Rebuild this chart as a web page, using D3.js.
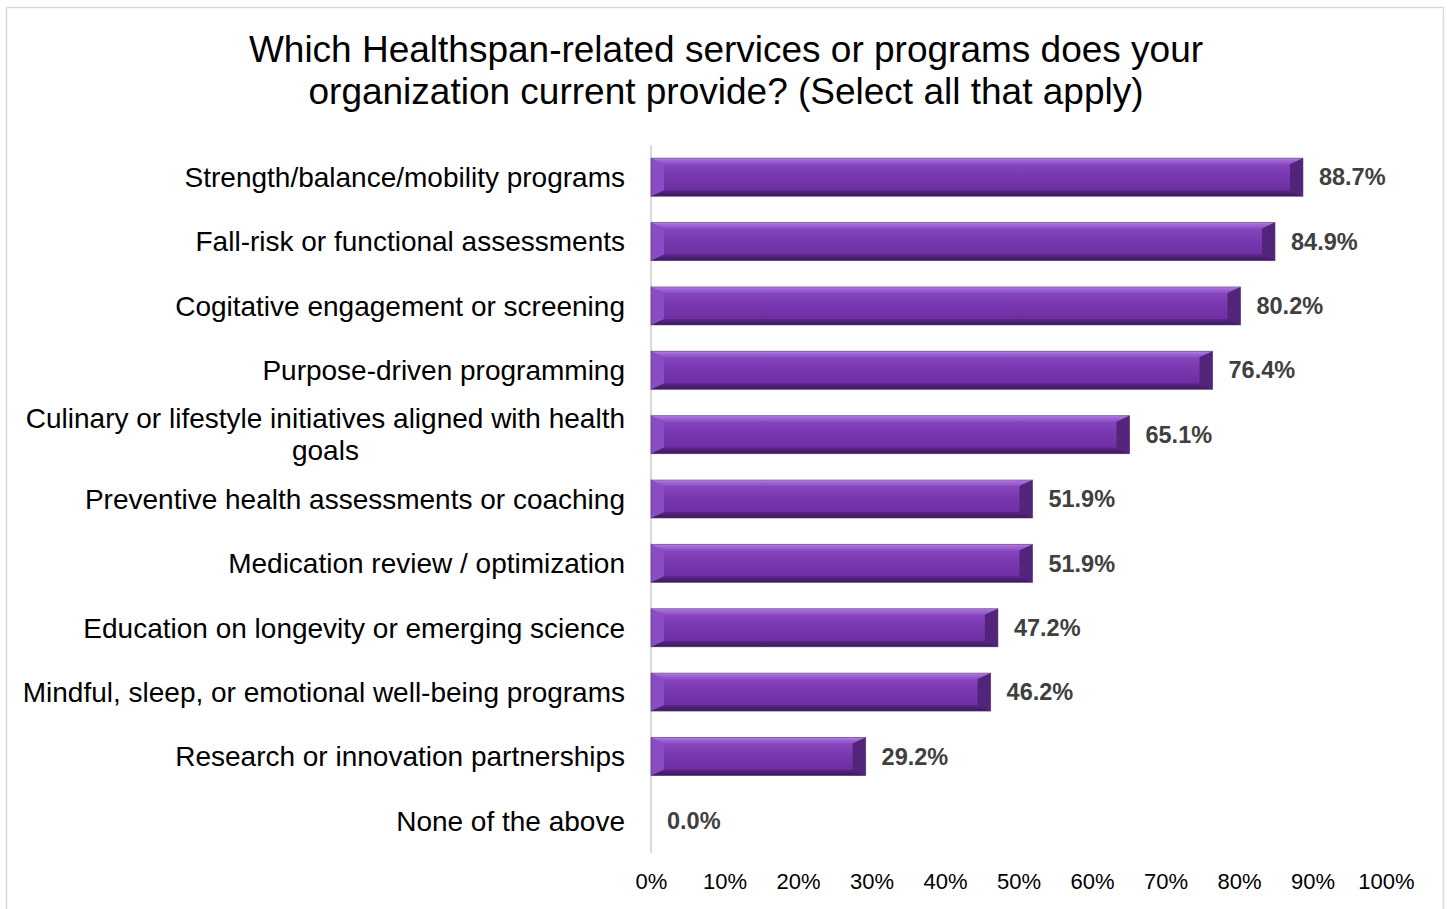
<!DOCTYPE html>
<html>
<head>
<meta charset="utf-8">
<script src="https://cdn.jsdelivr.net/npm/d3@7"></script>
<style>
  html, body { margin: 0; padding: 0; background: #ffffff; }
  svg { display: block; font-family: Arial, "Liberation Sans", sans-serif; }
</style>
</head>
<body>
<svg id="chart" width="1449" height="909"></svg>
<script>
// Survey responses, share of organizations offering each service
const categories = [
  "Strength/balance/mobility programs",
  "Fall-risk or functional assessments",
  "Cogitative engagement or screening",
  "Purpose-driven programming",
  "Culinary or lifestyle initiatives aligned with health goals",
  "Preventive health assessments or coaching",
  "Medication review / optimization",
  "Education on longevity or emerging science",
  "Mindful, sleep, or emotional well-being programs",
  "Research or innovation partnerships",
  "None of the above"
];
const values = [88.7, 84.9, 80.2, 76.4, 65.1, 51.9, 51.9, 47.2, 46.2, 29.2, 0.0];
const tickValues = [0, 10, 20, 30, 40, 50, 60, 70, 80, 90, 100];
const titleLines = [
  "Which Healthspan-related services or programs does your",
  "organization current provide? (Select all that apply)"
];

const svg = d3.select("#chart");
const W = 1449, H = 909;
const margin = { left: 651, right: 63, top: 145, bottom: 56 };

// outer chart frame
svg.append("rect")
  .attr("x", 6.5).attr("y", 7.5)
  .attr("width", 1437).attr("height", 910)
  .attr("fill", "#fff").attr("stroke", "#d9d9d9").attr("stroke-width", 1.5);

// title
svg.append("g").selectAll("text").data(titleLines).join("text")
  .attr("x", 726).attr("y", (d, i) => 62 + i * 42)
  .attr("text-anchor", "middle")
  .attr("font-size", 37).attr("fill", "#000")
  .text(d => d);

const x = d3.scaleLinear().domain([0, 100]).range([margin.left, W - margin.right]);
const y = d3.scaleBand().domain(categories).range([margin.top, H - margin.bottom]).paddingInner(0.41).paddingOuter(0.205);

// gradients for the beveled bars
const defs = svg.append("defs");
const gFace = defs.append("linearGradient").attr("id", "face").attr("x1", 0).attr("y1", 0).attr("x2", 0).attr("y2", 1);
[[0, "#8e4ec6"], [0.45, "#7a38b0"], [1, "#6a2b9e"]].forEach(([o, c]) =>
  gFace.append("stop").attr("offset", o).attr("stop-color", c));
const gTop = defs.append("linearGradient").attr("id", "topf").attr("x1", 0).attr("y1", 0).attr("x2", 0).attr("y2", 1);
[[0, "#b890dc"], [0.3, "#a46ad8"], [1, "#8c4ec6"]].forEach(([o, c]) =>
  gTop.append("stop").attr("offset", o).attr("stop-color", c));
const gBot = defs.append("linearGradient").attr("id", "botf").attr("x1", 0).attr("y1", 0).attr("x2", 0).attr("y2", 1);
[[0, "#5a2886"], [1, "#3c185e"]].forEach(([o, c]) =>
  gBot.append("stop").attr("offset", o).attr("stop-color", c));

// vertical category axis line
svg.append("line")
  .attr("x1", x(0)).attr("x2", x(0))
  .attr("y1", margin.top).attr("y2", H - margin.bottom)
  .attr("stroke", "#d9d9d9").attr("stroke-width", 2);

// bars with bevelled edges
const bx = 13, by = 6;
const bars = svg.append("g").selectAll("g").data(values.map((v, i) => ({ v, c: categories[i] }))).join("g")
  .filter(d => d.v > 0);
bars.each(function (d) {
  const g = d3.select(this);
  const x0 = x(0), x1 = x(d.v), y0 = y(d.c), y1 = y0 + y.bandwidth();
  const pts = a => a.map(p => p.join(",")).join(" ");
  g.append("rect").attr("x", x0).attr("y", y0).attr("width", x1 - x0).attr("height", y1 - y0)
    .attr("fill", "url(#face)");
  // top facet
  g.append("polygon").attr("points", pts([[x0, y0], [x1, y0], [x1 - bx, y0 + by], [x0 + bx, y0 + by]]))
    .attr("fill", "url(#topf)");
  // bottom facet
  g.append("polygon").attr("points", pts([[x0, y1], [x1, y1], [x1 - bx, y1 - by], [x0 + bx, y1 - by]]))
    .attr("fill", "url(#botf)");
  // left facet
  g.append("polygon").attr("points", pts([[x0, y0], [x0 + bx, y0 + by], [x0 + bx, y1 - by], [x0, y1]]))
    .attr("fill", "#8a4cc4");
  // right facet
  g.append("polygon").attr("points", pts([[x1, y0], [x1 - bx, y0 + by], [x1 - bx, y1 - by], [x1, y1]]))
    .attr("fill", "#52247a");
  g.append("rect").attr("x", x0).attr("y", y0).attr("width", x1 - x0).attr("height", y1 - y0)
    .attr("fill", "none").attr("stroke", "#5b3a78").attr("stroke-opacity", 0.6).attr("stroke-width", 1);
});

// value labels
svg.append("g").selectAll("text").data(values).join("text")
  .attr("x", d => x(d) + 16)
  .attr("y", (d, i) => y(categories[i]) + y.bandwidth() / 2)
  .attr("dy", "0.35em")
  .attr("font-size", 23.5).attr("font-weight", "bold").attr("fill", "#404040")
  .text(d => d.toFixed(1) + "%");

// category labels, wrapped and centered within a right-aligned block
const labelRight = 625, wrapWidth = 610, catFont = 28, lineH = 32;
const catG = svg.append("g").attr("font-size", catFont).attr("fill", "#000");
categories.forEach(c => {
  const probe = catG.append("text");
  const words = c.split(" ");
  const lines = [];
  let cur = [];
  words.forEach(w => {
    const trial = cur.concat(w).join(" ");
    probe.text(trial);
    if (probe.node().getComputedTextLength() > wrapWidth && cur.length) {
      lines.push(cur.join(" "));
      cur = [w];
    } else cur.push(w);
  });
  lines.push(cur.join(" "));
  const widths = lines.map(l => { probe.text(l); return probe.node().getComputedTextLength(); });
  probe.remove();
  const blockW = d3.max(widths);
  const cx = labelRight - blockW / 2;
  const cy = y(c) + y.bandwidth() / 2;
  lines.forEach((l, i) => {
    catG.append("text")
      .attr("x", cx).attr("text-anchor", "middle")
      .attr("y", cy + (i - (lines.length - 1) / 2) * lineH)
      .attr("dy", "0.35em")
      .text(l);
  });
});

// x axis tick labels
const xAxis = d3.axisBottom(x).tickValues(tickValues).tickSize(0).tickPadding(0).tickFormat(d => d + "%");
const ax = svg.append("g").attr("transform", `translate(0,${H - margin.bottom + 20})`).call(xAxis);
ax.select(".domain").remove();
ax.selectAll("text").attr("font-size", 22).attr("fill", "#000").attr("font-family", "Arial, 'Liberation Sans', sans-serif");
</script>
</body>
</html>
